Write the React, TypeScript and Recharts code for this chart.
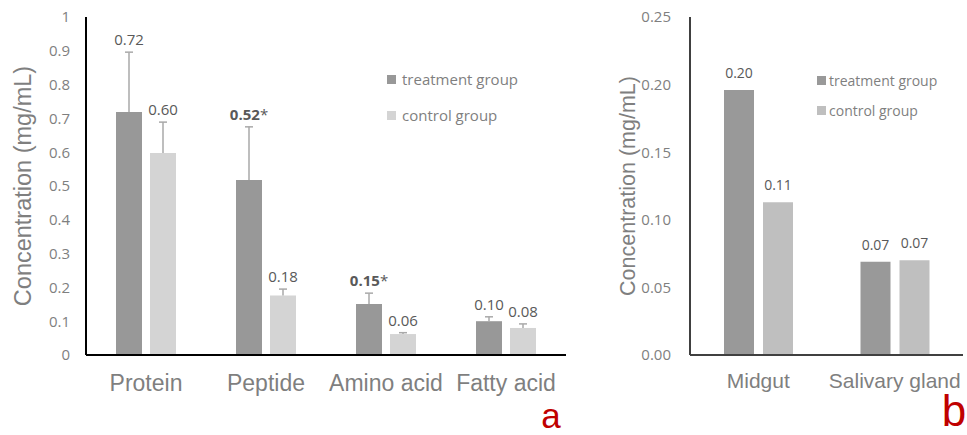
import React from "react";
import {
  BarChart,
  Bar,
  XAxis,
  YAxis,
  ErrorBar,
  LabelList,
  Legend,
  Label,
} from "recharts";

// panel a: nutrient concentrations
const nutrients = ["Protein", "Peptide", "Amino acid", "Fatty acid"];
const nutrientTreatment = [0.719, 0.518, 0.151, 0.1];
const nutrientControl = [0.598, 0.176, 0.062, 0.08];
const nutrientTreatmentErr = [0.177, 0.157, 0.032, 0.013];
const nutrientControlErr = [0.091, 0.019, 0.004, 0.012];
const nutrientSig = [false, true, true, false];
const nutrientTicks = [0, 0.1, 0.2, 0.3, 0.4, 0.5, 0.6, 0.7, 0.8, 0.9, 1];

// panel b: tissue concentrations
const tissues = ["Midgut", "Salivary gland"];
const tissueTreatment = [0.196, 0.069];
const tissueControl = [0.113, 0.07];
const tissueTicks = [0, 0.05, 0.1, 0.15, 0.2, 0.25];

const seriesOrder = ["treatment", "control"];

const nutrientData = nutrients.map((name, i) => ({
  name,
  treatment: nutrientTreatment[i],
  control: nutrientControl[i],
  tErr: [0, nutrientTreatmentErr[i]],
  cErr: [0, nutrientControlErr[i]],
}));

const tissueData = tissues.map((name, i) => ({
  name,
  treatment: tissueTreatment[i],
  control: tissueControl[i],
}));

const GREY_TEXT = "#7f7f7f";
const VALUE_TEXT = "#595959";
const ARIAL = "'Liberation Sans', Arial, sans-serif";
const CALIBRI = "'Open Sans', 'Noto Sans', sans-serif";

// value label sitting above the error bar cap
const errLabel = (errs: number[], sig: boolean[] | null) => (props: any) => {
  const vb = props.viewBox ?? props;
  const x = Number(vb.x ?? props.x);
  const y = Number(vb.y ?? props.y);
  const width = Number(vb.width ?? props.width);
  const height = Number(vb.height ?? props.height);
  const v = Number(props.value);
  const i = props.index ?? 0;
  const perUnit = v > 0 ? height / v : 0;
  const capY = y - errs[i] * perUnit;
  const txt = v.toFixed(2);
  const bold = sig ? sig[i] : false;
  return (
    <text
      x={x + width / 2}
      y={capY - 7}
      textAnchor="middle"
      fontFamily={CALIBRI}
      fontSize={15}
      fill={VALUE_TEXT}
    >
      <tspan fontWeight={bold ? "bold" : "normal"}>{txt}</tspan>
      {bold && <tspan>*</tspan>}
    </text>
  );
};

const topLabel = (props: any) => {
  const vb = props.viewBox ?? props;
  const x = Number(vb.x ?? props.x);
  const y = Number(vb.y ?? props.y);
  const width = Number(vb.width ?? props.width);
  return (
    <text
      x={x + width / 2}
      y={y - 12}
      textAnchor="middle"
      fontFamily={CALIBRI}
      fontSize={14}
      fill={VALUE_TEXT}
    >
      {Number(props.value).toFixed(2)}
    </text>
  );
};

const legendContent =
  (rowHeight: number, fontSize: number, gap: number) => (props: any) => {
    const items = [...(props.payload ?? [])].sort(
      (a: any, b: any) =>
        seriesOrder.indexOf(String(a.dataKey)) -
        seriesOrder.indexOf(String(b.dataKey))
    );
    return (
      <div style={{ fontFamily: CALIBRI, fontSize, color: GREY_TEXT }}>
        {items.map((it: any) => (
          <div
            key={it.value}
            style={{
              display: "flex",
              alignItems: "center",
              height: rowHeight,
              whiteSpace: "nowrap",
            }}
          >
            <span
              style={{
                display: "inline-block",
                width: 9,
                height: 9,
                background: it.color,
                marginRight: gap,
              }}
            />
            <span>{it.value}</span>
          </div>
        ))}
      </div>
    );
  };

export default function App() {
  return (
    <div
      style={{
        position: "absolute",
        left: 0,
        top: 0,
        width: 967,
        height: 435,
        background: "#fff",
        overflow: "hidden",
      }}
    >
      {/* Excel-style one-sided error bars: hide the lower cap drawn on the bar top */}
      <style>{`.recharts-errorBar line:last-of-type { display: none; }`}</style>
      <div style={{ position: "absolute", left: 0, top: 0 }}>
        <BarChart
          width={600}
          height={435}
          data={nutrientData}
          margin={{ top: 17, right: 34, left: 0, bottom: 30 }}
          barSize={26}
          barGap={8}
        >
          <XAxis
            dataKey="name"
            height={50}
            axisLine={{ stroke: "#000", strokeWidth: 2 }}
            tickLine={false}
            tickSize={0}
            tickMargin={20}
            tick={{ fontFamily: ARIAL, fontSize: 23, fill: GREY_TEXT }}
            interval={0}
          />
          <YAxis
            width={86}
            domain={[0, 1]}
            ticks={nutrientTicks}
            interval={0}
            axisLine={{ stroke: "#000", strokeWidth: 2 }}
            tickLine={false}
            tickSize={0}
            tickMargin={16}
            tickFormatter={(v: number) => String(v)}
            tick={{ fontFamily: CALIBRI, fontSize: 15, fill: GREY_TEXT }}
          >
            <Label
              value="Concentration (mg/mL)"
              angle={-90}
              position="center"
              dx={-20}
              fill={GREY_TEXT}
              fontFamily={ARIAL}
              fontSize={23.5}
            />
          </YAxis>
          <Legend
            layout="vertical"
            align="center"
            verticalAlign="middle"
            wrapperStyle={{ left: 387, top: 61 }}
            content={legendContent(36, 15, 6)}
          />
          <Bar
            dataKey="treatment"
            name="treatment group"
            fill="#989898"
            isAnimationActive={false}
          >
            <ErrorBar
              dataKey="tErr"
              direction="y"
              width={4}
              stroke="#a9a9a9"
              strokeWidth={1.5}
              isAnimationActive={false}
            />
            <LabelList
              dataKey="treatment"
              content={errLabel(nutrientTreatmentErr, nutrientSig)}
            />
          </Bar>
          <Bar
            dataKey="control"
            name="control group"
            fill="#d4d4d4"
            isAnimationActive={false}
          >
            <ErrorBar
              dataKey="cErr"
              direction="y"
              width={4}
              stroke="#a9a9a9"
              strokeWidth={1.5}
              isAnimationActive={false}
            />
            <LabelList
              dataKey="control"
              content={errLabel(nutrientControlErr, null)}
            />
          </Bar>
        </BarChart>
      </div>

      <div style={{ position: "absolute", left: 590, top: 0 }}>
        <BarChart
          width={377}
          height={435}
          data={tissueData}
          margin={{ top: 17, right: 4, left: 0, bottom: 30 }}
          barSize={30}
          barGap={9}
        >
          <XAxis
            dataKey="name"
            height={50}
            axisLine={{ stroke: "#404040", strokeWidth: 2 }}
            tickLine={false}
            tickSize={0}
            tickMargin={18}
            tick={{ fontFamily: ARIAL, fontSize: 21, fill: GREY_TEXT }}
            interval={0}
          />
          <YAxis
            width={100}
            domain={[0, 0.25]}
            ticks={tissueTicks}
            interval={0}
            axisLine={{ stroke: "#404040", strokeWidth: 2 }}
            tickLine={false}
            tickSize={0}
            tickMargin={19}
            tickFormatter={(v: number) => v.toFixed(2)}
            tick={{ fontFamily: CALIBRI, fontSize: 15, fill: GREY_TEXT }}
          >
            <Label
              value="Concentration (mg/mL)"
              angle={-90}
              position="center"
              dx={-13}
              fill={GREY_TEXT}
              fontFamily={ARIAL}
              fontSize={21.5}
            />
          </YAxis>
          <Legend
            layout="vertical"
            align="center"
            verticalAlign="middle"
            wrapperStyle={{ left: 227, top: 65 }}
            content={legendContent(30, 14, 3)}
          />
          <Bar
            dataKey="treatment"
            name="treatment group"
            fill="#999999"
            isAnimationActive={false}
          >
            <LabelList dataKey="treatment" content={topLabel} />
          </Bar>
          <Bar
            dataKey="control"
            name="control group"
            fill="#bfbfbf"
            isAnimationActive={false}
          >
            <LabelList dataKey="control" content={topLabel} />
          </Bar>
        </BarChart>
      </div>

      <svg
        width={967}
        height={435}
        style={{ position: "absolute", left: 0, top: 0, pointerEvents: "none" }}
      >
        <text
          x={551}
          y={428}
          textAnchor="middle"
          fontFamily={ARIAL}
          fontSize={35}
          fill="#c00000"
        >
          a
        </text>
        <text
          x={954}
          y={426}
          textAnchor="middle"
          fontFamily={ARIAL}
          fontSize={44}
          fill="#c00000"
        >
          b
        </text>
      </svg>
    </div>
  );
}
